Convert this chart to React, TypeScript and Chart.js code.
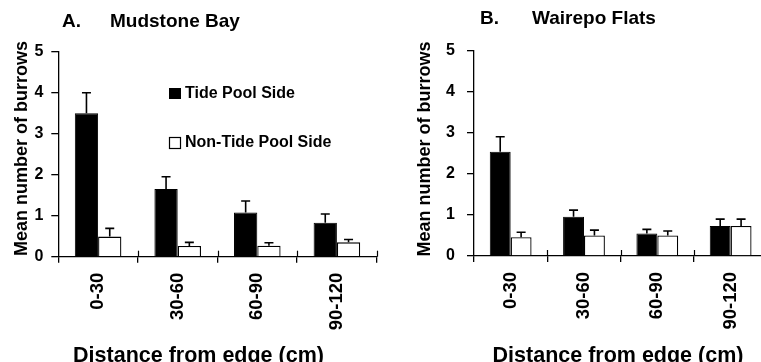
import React, { useEffect, useRef } from "react";
import { Chart, registerables } from "chart.js";

Chart.register(...registerables);

// ---------- data ----------
const categories = ["0-30", "30-60", "60-90", "90-120"];
const yTicks = [0, 1, 2, 3, 4, 5];
const seriesNames = ["Tide Pool Side", "Non-Tide Pool Side"];
const xAxisTitle = "Distance from edge (cm)";
const yAxisTitle = "Mean number of burrows";

// A. Mudstone Bay
const mudTide = [3.5, 1.65, 1.08, 0.83];
const mudTideErr = [0.5, 0.3, 0.28, 0.21];
const mudNon = [0.49, 0.26, 0.27, 0.35];
const mudNonErr = [0.2, 0.09, 0.07, 0.07];

// B. Wairepo Flats
const waiTide = [2.54, 0.96, 0.55, 0.73];
const waiTideErr = [0.37, 0.16, 0.1, 0.17];
const waiNon = [0.46, 0.5, 0.5, 0.73];
const waiNonErr = [0.12, 0.13, 0.11, 0.17];

const FONT = "'Liberation Sans', Arial, Helvetica, sans-serif";

type Geo = {
  top: number;
  padRight: number;
  yWidth: number;
  xHeight: number;
  yPad: number;
  catPct: number;
  yTitleX: number;
  yTitleY: number;
  xTitleX: number;
  xTitleY: number;
  titleBase: number;
  letterX: number;
  nameX: number;
};

type PanelCfg = {
  letter: string;
  name: string;
  tide: number[];
  tideErr: number[];
  non: number[];
  nonErr: number[];
  showLegend: boolean;
  geo: Geo;
};

function Panel({ cfg }: { cfg: PanelCfg }) {
  const ref = useRef<HTMLCanvasElement>(null);
  useEffect(() => {
    const g = cfg.geo;
    const errs = [cfg.tideErr, cfg.nonErr];

    const errorBars = {
      id: "errorBars",
      afterDatasetsDraw(chart: any) {
        const ctx = chart.ctx;
        const y = chart.scales.y;
        ctx.save();
        ctx.strokeStyle = "#000";
        ctx.lineWidth = 1.6;
        chart.data.datasets.forEach((ds: any, di: number) => {
          const meta = chart.getDatasetMeta(di);
          meta.data.forEach((el: any, i: number) => {
            const v = ds.data[i];
            const top = y.getPixelForValue(v + errs[di][i]);
            ctx.beginPath();
            ctx.moveTo(el.x, el.y);
            ctx.lineTo(el.x, top);
            ctx.moveTo(el.x - 4.5, top);
            ctx.lineTo(el.x + 4.5, top);
            ctx.stroke();
          });
        });
        ctx.restore();
      },
    };

    const decor = {
      id: "decor",
      afterDraw(chart: any) {
        const ctx = chart.ctx;
        const area = chart.chartArea;
        const xs = chart.scales.x;
        ctx.save();
        ctx.fillStyle = "#000";
        ctx.strokeStyle = "#000";
        // upward halves of the category boundary ticks
        ctx.lineWidth = 1.2;
        const n = categories.length;
        for (let i = 1; i <= n; i++) {
          const x = Math.round(xs.left + (i * xs.width) / n) + 0.5;
          ctx.beginPath();
          ctx.moveTo(x, area.bottom - 6);
          ctx.lineTo(x, area.bottom);
          ctx.stroke();
        }
        // panel title
        ctx.font = `bold 19px ${FONT}`;
        ctx.textAlign = "left";
        ctx.textBaseline = "alphabetic";
        ctx.fillText(cfg.letter, g.letterX, g.titleBase);
        ctx.fillText(cfg.name, g.nameX, g.titleBase);
        // x axis title
        ctx.font = `bold 21.5px ${FONT}`;
        ctx.textAlign = "center";
        ctx.fillText(xAxisTitle, g.xTitleX, g.xTitleY);
        // y axis title
        ctx.save();
        ctx.translate(g.yTitleX, g.yTitleY);
        ctx.rotate(-Math.PI / 2);
        ctx.font = `bold 18px ${FONT}`;
        ctx.textAlign = "center";
        ctx.textBaseline = "middle";
        ctx.fillText(yAxisTitle, 0, 0);
        ctx.restore();
        // legend
        if (cfg.showLegend) {
          ctx.font = `bold 16px ${FONT}`;
          ctx.textAlign = "left";
          ctx.textBaseline = "middle";
          ctx.fillRect(169, 88, 12, 11);
          ctx.fillText(seriesNames[0], 185, 94);
          ctx.lineWidth = 1.2;
          ctx.strokeRect(169.5, 137.5, 11, 11);
          ctx.fillText(seriesNames[1], 185, 143);
        }
        ctx.restore();
      },
    };

    const tickFont = { family: FONT, weight: "bold" as const };

    const chart = new Chart(ref.current!, {
      type: "bar",
      data: {
        labels: categories,
        datasets: [
          {
            label: seriesNames[0],
            data: cfg.tide,
            backgroundColor: "#000",
            borderColor: "#000",
            borderWidth: 1,
            categoryPercentage: g.catPct,
            barPercentage: 1,
          },
          {
            label: seriesNames[1],
            data: cfg.non,
            backgroundColor: "#fff",
            borderColor: "#000",
            borderWidth: 1.3,
            categoryPercentage: g.catPct,
            barPercentage: 1,
          },
        ],
      },
      options: {
        animation: false,
        responsive: true,
        maintainAspectRatio: false,
        layout: { padding: { left: 0, top: g.top, right: g.padRight, bottom: 0 } },
        plugins: {
          legend: { display: false },
          tooltip: { enabled: false },
          title: { display: false },
        },
        scales: {
          x: {
            grid: {
              display: true,
              drawOnChartArea: false,
              drawTicks: true,
              tickLength: 6,
              color: "#000",
              lineWidth: 1.3,
            },
            border: { display: true, color: "#000", width: 1.3 },
            ticks: {
              color: "#000",
              font: { ...tickFont, size: 18.5 },
              minRotation: 90,
              maxRotation: 90,
              padding: 10,
              autoSkip: false,
            },
            afterFit: (s: any) => {
              s.height = g.xHeight;
            },
          },
          y: {
            min: 0,
            max: 5,
            grid: {
              display: true,
              drawOnChartArea: false,
              drawTicks: true,
              tickLength: 7,
              color: "#000",
              lineWidth: 1.3,
            },
            border: { display: true, color: "#000", width: 1.3 },
            ticks: {
              color: "#000",
              font: { ...tickFont, size: 16 },
              padding: g.yPad,
            },
            afterBuildTicks: (s: any) => {
              s.ticks = yTicks.map((v) => ({ value: v }));
            },
            afterFit: (s: any) => {
              s.width = g.yWidth;
            },
          },
        },
      },
      plugins: [errorBars, decor],
    } as any);
    return () => chart.destroy();
  }, [cfg]);
  return <canvas ref={ref} />;
}

const panelA: PanelCfg = {
  letter: "A.",
  name: "Mudstone Bay",
  tide: mudTide,
  tideErr: mudTideErr,
  non: mudNon,
  nonErr: mudNonErr,
  showLegend: true,
  geo: {
    top: 51.7,
    padRight: 3.3,
    yWidth: 58.3,
    xHeight: 105.3,
    yPad: 8,
    catPct: 0.585,
    yTitleX: 22,
    yTitleY: 148.5,
    xTitleX: 198.5,
    xTitleY: 362,
    titleBase: 27,
    letterX: 62,
    nameX: 110,
  },
};

const panelB: PanelCfg = {
  letter: "B.",
  name: "Wairepo Flats",
  tide: waiTide,
  tideErr: waiTideErr,
  non: waiNon,
  nonErr: waiNonErr,
  showLegend: false,
  geo: {
    top: 51,
    padRight: 2.7,
    yWidth: 94,
    xHeight: 106,
    yPad: 12,
    catPct: 0.57,
    yTitleX: 44.7,
    yTitleY: 149,
    xTitleX: 238,
    xTitleY: 362,
    titleBase: 24,
    letterX: 100,
    nameX: 152,
  },
};

export default function App() {
  return (
    <div
      style={{
        position: "fixed",
        left: 0,
        top: 0,
        width: 761,
        height: 362,
        overflow: "hidden",
        background: "#fff",
      }}
    >
      <div style={{ position: "absolute", left: 0, top: 0, width: 380, height: 362 }}>
        <Panel cfg={panelA} />
      </div>
      <div style={{ position: "absolute", left: 380, top: 0, width: 390, height: 362 }}>
        <Panel cfg={panelB} />
      </div>
    </div>
  );
}
